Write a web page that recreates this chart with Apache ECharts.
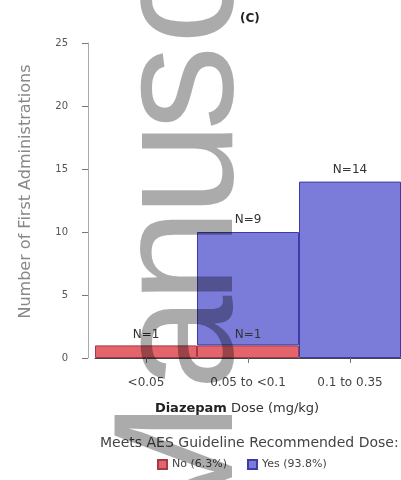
<!DOCTYPE html>
<html>
<head>
<meta charset="utf-8">
<script src="https://cdn.jsdelivr.net/npm/echarts@6/dist/echarts.min.js"></script>
<style>
  html, body { margin: 0; padding: 0; background: #fff; }
  #chart { width: 401px; height: 480px; }
</style>
</head>
<body>
<div id="chart"></div>
<script>
// dose groups on the x axis
const categories = ['<0.05', '0.05 to <0.1', '0.1 to 0.35'];
// counts per group (stacked)
const noCounts = [1, 1, null];
const yesCounts = [null, 9, 14];
const seriesNames = ['No (6.3%)', 'Yes (93.8%)'];
const yMax = 25;
const yStep = 5;

// watermark letters (page decoration, not data)
const wmLetters = [['M', 472], ['a', 343], ['n', 256], ['u', 169], ['s', 88], ['c', 2], ['r', -70]];

const toData = arr => arr.map(v => (v == null ? '-' : v));

const chart = echarts.init(document.getElementById('chart'));
chart.setOption({
  animation: false,
  textStyle: { fontFamily: 'DejaVu Sans' },
  title: {
    text: '(C)',
    left: 235, top: 8,
    textStyle: { fontSize: 12, fontWeight: 'bold', color: '#222', fontFamily: 'DejaVu Sans' }
  },
  grid: { left: 95, top: 43, width: 315, height: 315 },
  legend: {
    data: seriesNames,
    left: 152, top: 454,
    itemWidth: 9, itemHeight: 9, itemGap: 20,
    icon: 'rect',
    textStyle: { fontSize: 11, color: '#444' }
  },
  xAxis: {
    type: 'category',
    data: categories,
    axisLine: { show: true, lineStyle: { color: '#444' } },
    axisTick: { show: true, alignWithLabel: true, length: 5, lineStyle: { color: '#777' } },
    axisLabel: { margin: 19, fontSize: 12, color: '#444' },
    name: '{b|Diazepam} Dose (mg/kg)',
    nameLocation: 'middle',
    nameGap: 44,
    nameTextStyle: {
      fontSize: 13, color: '#333', padding: [0, 22, 0, 0],
      rich: { b: { fontSize: 13, fontWeight: 'bold', color: '#222' } }
    }
  },
  yAxis: {
    type: 'value',
    min: 0, max: yMax, interval: yStep,
    offset: 7,
    splitLine: { show: false },
    axisLine: { show: true, lineStyle: { color: '#aaa' } },
    axisTick: { show: true, length: 6, lineStyle: { color: '#777' } },
    axisLabel: { margin: 20, fontSize: 10, color: '#555' },
    name: 'Number of First Administrations',
    nameLocation: 'middle',
    nameGap: 54,
    nameTextStyle: { fontSize: 16, color: '#888', padding: [0, 0, 0, 18] }
  },
  graphic: [
    {
      type: 'text', left: 100, top: 436,
      style: { text: 'Meets AES Guideline Recommended Dose:', fontSize: 14, fontFamily: 'DejaVu Sans', fill: '#444' }
    }
  ].concat(wmLetters.map(([ch, y]) => ({
    type: 'text', x: 185, y: y, rotation: Math.PI / 2, z: 100,
    style: {
      text: ch, fontSize: 170, fontFamily: 'Liberation Sans',
      align: 'center', verticalAlign: 'middle', fill: 'rgba(0,0,0,0.33)'
    }
  }))),
  series: [
    {
      name: seriesNames[0], type: 'bar', stack: 'n', barWidth: '100%',
      data: toData(noCounts),
      itemStyle: { color: '#e4646c', borderColor: '#a33a45', borderWidth: 1 },
      label: { show: true, position: 'top', distance: 5, fontSize: 12, color: '#333', formatter: p => 'N=' + p.value }
    },
    {
      name: seriesNames[1], type: 'bar', stack: 'n', barWidth: '100%',
      data: toData(yesCounts),
      itemStyle: { color: '#7b7bd9', borderColor: '#3c3ca6', borderWidth: 1 },
      label: { show: true, position: 'top', distance: 6, fontSize: 12, color: '#333', formatter: p => 'N=' + p.value }
    }
  ]
});
</script>
</body>
</html>
